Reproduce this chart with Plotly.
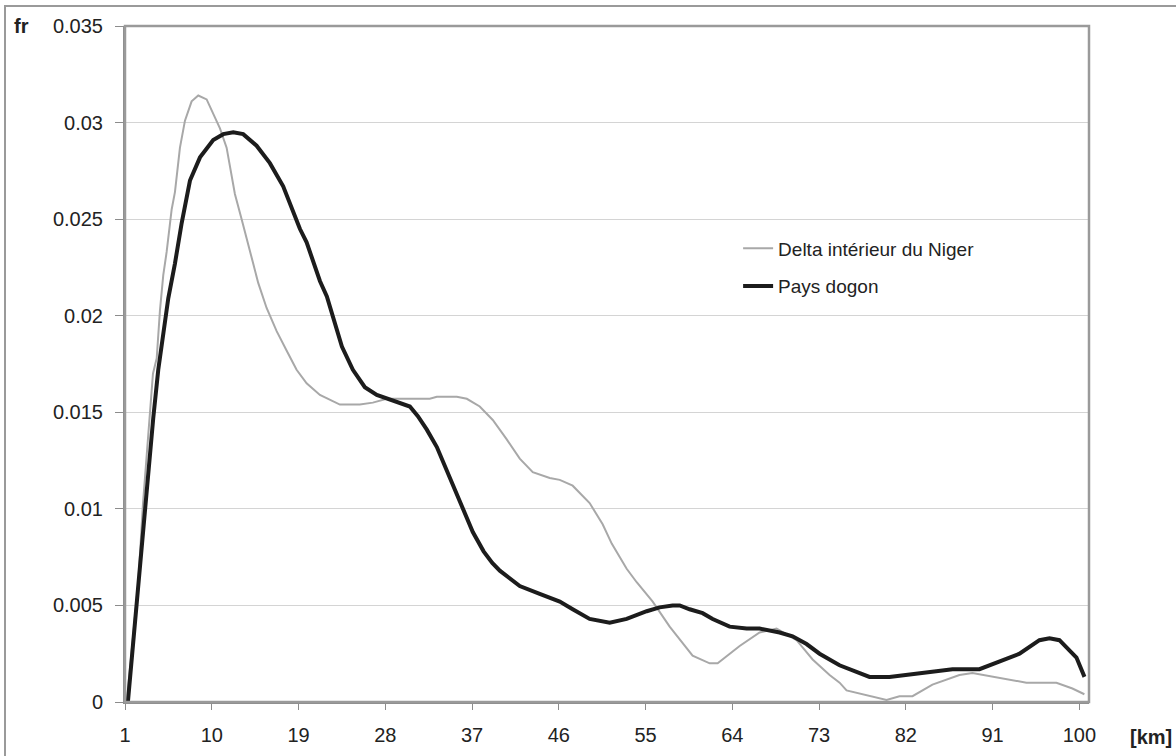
import plotly.graph_objects as go

# Distance classes [km] and relative frequencies for each region
delta_km = [1.18, 1.86, 2.38, 2.87, 3.38, 3.9, 4.29, 4.63, 4.97, 5.32, 5.84, 6.18, 6.7, 7.22,
            7.91, 8.6, 9.47, 10.15, 10.85, 11.54, 12.4, 13.1, 13.96, 14.82, 15.69, 16.73,
            17.76, 18.8, 19.84, 21.22, 23.29, 25.36, 26.71, 28.16, 29.51, 32.62, 33.35,
            35.42, 36.46, 37.8, 39.15, 40.6, 41.95, 43.3, 45.06, 46.1, 47.44, 49.2, 50.55,
            51.49, 53.04, 54.08, 55.74, 57.5, 59.88, 61.65, 62.48, 64.76, 66.83, 68.59,
            70.67, 72.33, 74.09, 75.13, 75.85, 78.55, 80.0, 81.34, 82.69, 84.76, 87.56,
            88.91, 90.99, 94.51, 97.62, 99.28, 100.52]
delta_fr = [0.0, 0.0033, 0.0062, 0.0103, 0.0137, 0.017, 0.0178, 0.0203, 0.0221, 0.0233,
            0.0255, 0.0264, 0.0287, 0.0301, 0.0311, 0.0314, 0.0312, 0.0305, 0.0297, 0.0287,
            0.0263, 0.025, 0.0234, 0.0217, 0.0204, 0.0192, 0.0182, 0.0172, 0.0165, 0.0159,
            0.0154, 0.0154, 0.0155, 0.0157, 0.0157, 0.0157, 0.0158, 0.0158, 0.0157, 0.0153,
            0.0146, 0.0136, 0.0126, 0.0119, 0.0116, 0.0115, 0.0112, 0.0103, 0.0092, 0.0082,
            0.0069, 0.0062, 0.0052, 0.0039, 0.0024, 0.002, 0.002, 0.0029, 0.0036, 0.0038,
            0.0032, 0.0022, 0.0014, 0.001, 0.0006, 0.0003, 0.0001, 0.0003, 0.0003, 0.0009,
            0.0014, 0.0015, 0.0013, 0.001, 0.001, 0.0007, 0.0004]

dogon_km = [1.3, 1.86, 2.38, 2.9, 3.42, 3.93, 4.45, 4.97, 5.49, 6.18, 6.88, 7.74, 8.78,
            10.15, 11.19, 12.23, 13.26, 14.65, 16.03, 17.41, 18.62, 19.14, 19.84, 20.49,
            21.22, 21.94, 22.56, 23.5, 24.64, 25.88, 27.12, 28.27, 29.51, 30.55, 31.38,
            32.31, 33.35, 34.38, 35.42, 37.08, 38.2, 39.1, 39.88, 40.6, 41.95, 44.02, 46.1,
            47.44, 49.2, 51.28, 53.04, 55.12, 56.46, 57.81, 58.54, 59.57, 60.92, 61.96,
            63.72, 65.48, 66.83, 68.9, 70.25, 71.7, 73.05, 75.12, 76.7, 78.23, 80.3, 83.42,
            86.84, 89.64, 91.71, 93.79, 95.86, 96.9, 97.93, 98.76, 99.7, 100.53]
dogon_fr = [0.0, 0.0032, 0.0057, 0.0092, 0.0118, 0.0147, 0.0172, 0.0192, 0.0209, 0.0227,
            0.0248, 0.027, 0.0282, 0.0291, 0.0294, 0.0295, 0.0294, 0.0288, 0.0279, 0.0267,
            0.0252, 0.0245, 0.0238, 0.0229, 0.0218, 0.021, 0.0199, 0.0184, 0.0172, 0.0163,
            0.0159, 0.0157, 0.0155, 0.0153, 0.0148, 0.0141, 0.0132, 0.012, 0.0108, 0.0088,
            0.0078, 0.0072, 0.0068, 0.0065, 0.006, 0.0056, 0.0052, 0.0048, 0.0043, 0.0041,
            0.0043, 0.0047, 0.0049, 0.005, 0.005, 0.0048, 0.0046, 0.0043, 0.0039, 0.0038,
            0.0038, 0.0036, 0.0034, 0.003, 0.0025, 0.0019, 0.0016, 0.0013, 0.0013, 0.0015,
            0.0017, 0.0017, 0.0021, 0.0025, 0.0032, 0.0033, 0.0032, 0.0028, 0.0023, 0.0013]

x_ticks = [1, 10, 19, 28, 37, 46, 55, 64, 73, 82, 91, 100]
y_ticks = [0, 0.005, 0.01, 0.015, 0.02, 0.025, 0.03, 0.035]
y_tick_text = ["0", "0.005", "0.01", "0.015", "0.02", "0.025", "0.03", "0.035"]

FONT = "Liberation Sans, Arial, sans-serif"
AXIS_GREY = "#8c8c8c"

fig = go.Figure()
fig.add_trace(go.Scatter(
    x=delta_km, y=delta_fr, mode="lines", name="Delta intérieur du Niger",
    line=dict(color="#a8a8a8", width=2), legendgroup="a",
))
fig.add_trace(go.Scatter(
    x=dogon_km, y=dogon_fr, mode="lines", name="Pays dogon",
    line=dict(color="#1c1c1c", width=4), legendgroup="b",
))

fig.update_layout(
    width=1176, height=756,
    margin=dict(l=125, r=87, t=26, b=54),
    paper_bgcolor="white", plot_bgcolor="white",
    font=dict(family=FONT, size=20, color="#222222"),
    showlegend=True,
    legend=dict(
        x=0.636, y=0.699, xanchor="left", yanchor="top",
        bgcolor="rgba(0,0,0,0)", borderwidth=0,
        font=dict(family=FONT, size=19, color="#222222"),
        traceorder="grouped", tracegroupgap=10,
    ),
    xaxis=dict(
        range=[1, 101], tickmode="array", tickvals=x_ticks,
        showgrid=False, zeroline=False, automargin=False,
        showline=True, linecolor=AXIS_GREY, linewidth=2,
        ticks="outside", ticklen=6, tickcolor=AXIS_GREY, tickwidth=1,
        ticklabelstandoff=8,
        tickfont=dict(family=FONT, size=20, color="#222222"),
    ),
    yaxis=dict(
        range=[0, 0.035], tickmode="array", tickvals=y_ticks, ticktext=y_tick_text,
        showgrid=True, gridcolor="#d4d4d4", gridwidth=1, zeroline=False, automargin=False,
        showline=True, linecolor=AXIS_GREY, linewidth=2,
        ticks="outside", ticklen=8, tickcolor=AXIS_GREY, tickwidth=1,
        ticklabelstandoff=8,
        tickfont=dict(family=FONT, size=20, color="#222222"),
    ),
)

# Plot-area frame (top and right edges)
fig.add_shape(type="rect", xref="paper", yref="paper", x0=0, y0=0, x1=1, y1=1,
              line=dict(color="#9a9a9a", width=2.5), layer="above")

# Outer chart border (top and left edges fall inside the page)
fig.add_shape(type="rect", xref="paper", yref="paper",
              x0=-120 / 964, y0=-80 / 676, x1=1.2, y1=1 + 20 / 676,
              line=dict(color="#9a9a9a", width=2))

# Axis captions
fig.add_annotation(text="<b>fr</b>", xref="paper", yref="paper",
                   x=-104 / 964, y=1, xanchor="center", yanchor="middle",
                   showarrow=False, font=dict(family=FONT, size=20, color="#222222"))
fig.add_annotation(text="<b>[km]</b>", xref="paper", yref="paper",
                   x=1 + 62 / 964, y=-35 / 676, xanchor="center", yanchor="middle",
                   showarrow=False, font=dict(family=FONT, size=20, color="#222222"))

fig.write_html("out.html")
